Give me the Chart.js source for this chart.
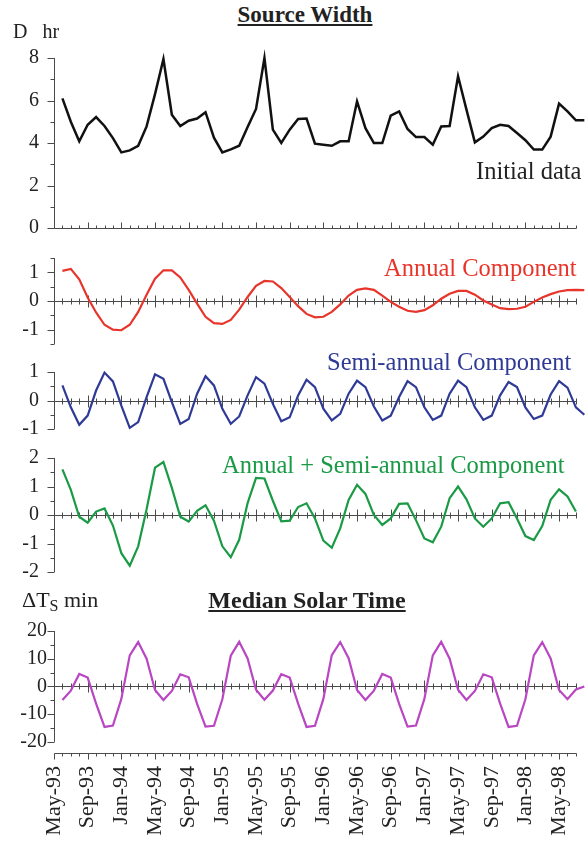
<!DOCTYPE html>
<html>
<head>
<meta charset="utf-8">
<script src="https://cdn.jsdelivr.net/npm/chart.js@4.4.1/dist/chart.umd.min.js"></script>
<style>
  body { margin: 0; background: #fff; }
  #page { position: relative; width: 587px; height: 841px; overflow: hidden;
          font-family: "Liberation Serif", "Times New Roman", serif; color: #222; }
  #page canvas { position: absolute; left: 0; }
  .lbl { position: absolute; white-space: pre; line-height: 1; }
  .head { font-weight: bold; text-decoration: underline; text-underline-offset: 2px; transform: translateX(-50%); }
</style>
</head>
<body>
<div id="page">
  <canvas id="cWidth"></canvas>
  <canvas id="cAnnual"></canvas>
  <canvas id="cSemi"></canvas>
  <canvas id="cSum"></canvas>
  <canvas id="cSolar"></canvas>

  <div class="lbl head" style="left:305px; top:3px; font-size:23px;">Source Width</div>
  <div class="lbl" style="left:13px; top:21px; font-size:20px;">D   hr</div>
  <div class="lbl" style="left:476px; top:159px; font-size:24.5px;">Initial data</div>
  <div class="lbl" style="left:384px; top:256px; font-size:24.5px; color:#e8352b;">Annual Component</div>
  <div class="lbl" style="left:327px; top:350px; font-size:24.5px; color:#2f3a96;">Semi-annual Component</div>
  <div class="lbl" style="left:222px; top:453px; font-size:24.5px; color:#1b9a46;">Annual + Semi-annual Component</div>
  <div class="lbl" style="left:22px; top:589px; font-size:22px;">ΔT<span style="font-size:16px; position:relative; top:4px;">S</span> min</div>
  <div class="lbl head" style="left:307px; top:588px; font-size:24px;">Median Solar Time</div>
</div>
<script>
const SERIF = '"Liberation Serif", "Times New Roman", serif';

// month index 0 = May-93, one tick per month, a label every 4 months
const monthLabels = ['May-93', 'Sep-93', 'Jan-94', 'May-94', 'Sep-94', 'Jan-95', 'May-95', 'Sep-95',
                     'Jan-96', 'May-96', 'Sep-96', 'Jan-97', 'May-97', 'Sep-97', 'Jan-98', 'May-98'];
const firstMonth = 1;     // series start at Jun-93
const lastTickMonth = 62; // Jul-98

// source width, hours
const sourceWidth = [6.1, 5.0, 4.08, 4.86, 5.22, 4.8, 4.23, 3.56, 3.65, 3.87,
                     4.78, 6.3, 7.95, 5.33, 4.8, 5.05, 5.15, 5.45, 4.25, 3.56,
                     3.7, 3.87, 4.75, 5.6, 8.0, 4.63, 4.0, 4.63, 5.13, 5.15,
                     3.97, 3.92, 3.87, 4.08, 4.08, 5.96, 4.7, 4.0, 4.0, 5.29,
                     5.49, 4.66, 4.28, 4.28, 3.92, 4.78, 4.8, 7.14, 5.57, 4.03,
                     4.3, 4.7, 4.86, 4.8, 4.47, 4.13, 3.69, 3.69, 4.3, 5.85,
                     5.49, 5.07, 5.07];

const annual = [1.05, 1.12, 0.76, 0.12, -0.4, -0.83, -1.0, -1.02, -0.83, -0.38,
                0.22, 0.78, 1.07, 1.07, 0.82, 0.39, -0.09, -0.55, -0.77, -0.8,
                -0.66, -0.3, 0.14, 0.53, 0.7, 0.68, 0.45, 0.14, -0.18, -0.45,
                -0.57, -0.55, -0.38, -0.12, 0.19, 0.39, 0.44, 0.39, 0.19, -0.03,
                -0.2, -0.34, -0.38, -0.32, -0.15, 0.08, 0.25, 0.35, 0.35, 0.22,
                0.02, -0.12, -0.25, -0.28, -0.27, -0.2, -0.03, 0.12, 0.24, 0.33,
                0.38, 0.39, 0.38];

const semiAnnual = [0.53, -0.24, -0.85, -0.53, 0.35, 0.98, 0.67, -0.18, -0.96, -0.76,
                    0.12, 0.92, 0.76, -0.06, -0.82, -0.65, 0.24, 0.85, 0.53, -0.29,
                    -0.82, -0.56, 0.18, 0.82, 0.59, -0.12, -0.73, -0.59, 0.18, 0.73,
                    0.47, -0.29, -0.7, -0.47, 0.24, 0.7, 0.47, -0.21, -0.7, -0.53,
                    0.12, 0.68, 0.47, -0.24, -0.68, -0.53, 0.24, 0.7, 0.47, -0.24,
                    -0.68, -0.53, 0.18, 0.65, 0.47, -0.24, -0.65, -0.53, 0.21, 0.68,
                    0.45, -0.24, -0.5];

const combined = [1.6, 0.88, -0.06, -0.27, 0.12, 0.23, -0.37, -1.34, -1.78, -1.1,
                  0.2, 1.66, 1.86, 0.95, -0.06, -0.23, 0.15, 0.34, -0.2, -1.1,
                  -1.48, -0.87, 0.42, 1.3, 1.28, 0.5, -0.22, -0.2, 0.28, 0.41,
                  -0.12, -0.9, -1.15, -0.47, 0.53, 1.06, 0.74, 0.0, -0.35, -0.12,
                  0.39, 0.41, -0.18, -0.82, -0.96, -0.41, 0.59, 1.0, 0.55, -0.12,
                  -0.41, -0.12, 0.41, 0.45, -0.12, -0.74, -0.88, -0.39, 0.53, 0.9,
                  0.65, 0.12];

// median solar time offset, minutes
const solarTime = [-4.9, -1.5, 4.5, 3.2, -6.2, -14.6, -14.1, -4.5, 11.2, 16.0, 10.0, -1.3,
                   -4.9, -1.6, 4.4, 3.3, -6.3, -14.5, -14.2, -4.6, 11.1, 16.1, 10.1, -1.2,
                   -4.8, -1.5, 4.4, 3.2, -6.2, -14.6, -14.2, -4.5, 11.3, 16.0, 10.2, -1.3,
                   -4.9, -1.5, 4.5, 3.2, -6.3, -14.5, -14.1, -4.5, 11.2, 16.1, 10.0, -1.2,
                   -4.9, -1.6, 4.4, 3.3, -6.2, -14.6, -14.2, -4.6, 11.2, 16.0, 10.1, -1.3,
                   -4.6, -1.1, 0.0];

const PAD = 20;        // room above/below each plot for the tick labels
const X_LABEL_H = 88;  // height of the rotated month labels
const AXIS = '#4a4a4a';

// axis lines and tick marks: a y axis with long/short ticks and
// one or more month axes with ticks pointing up, down or across
const panelAxes = {
  id: 'panelAxes',
  beforeDatasetsDraw(chart, args, o) {
    const { ctx, scales: { x, y } } = chart;
    const ax = Math.round(x.getPixelForValue(0)) + 0.5;
    ctx.save();
    ctx.strokeStyle = AXIS;
    ctx.lineWidth = 1;
    ctx.beginPath();
    ctx.moveTo(ax, y.getPixelForValue(o.yFrom));
    ctx.lineTo(ax, y.getPixelForValue(o.yTo));
    for (const v of o.major) {
      const py = Math.round(y.getPixelForValue(v)) + 0.5;
      ctx.moveTo(ax - 7, py); ctx.lineTo(ax, py);
    }
    for (const v of o.minor) {
      const py = Math.round(y.getPixelForValue(v)) + 0.5;
      ctx.moveTo(ax - 4, py); ctx.lineTo(ax, py);
    }
    for (const m of o.monthAxes) {
      const py = Math.round(y.getPixelForValue(m.at)) + 0.5;
      ctx.moveTo(ax, py);
      ctx.lineTo(Math.round(x.getPixelForValue(lastTickMonth)) + 0.5, py);
      for (let k = 0; k <= lastTickMonth; k++) {
        const px = Math.round(x.getPixelForValue(k)) + 0.5;
        const len = k % 4 === 0 ? 6 : 3;
        ctx.moveTo(px, py - (m.dir === 'down' ? 0 : len));
        ctx.lineTo(px, py + (m.dir === 'up' ? 0 : len));
      }
    }
    ctx.stroke();
    ctx.restore();
  }
};

function makePanel(id, geo, series, color, lineWidth, axes) {
  const canvas = document.getElementById(id);
  const top = geo.top - PAD;
  canvas.width = 587;
  canvas.height = geo.bottom - top + (geo.xLabels ? X_LABEL_H : PAD);
  canvas.style.top = top + 'px';

  return new Chart(canvas, {
    type: 'line',
    data: {
      datasets: [{
        data: series.map((v, i) => ({ x: firstMonth + i, y: v })),
        borderColor: color,
        borderWidth: lineWidth,
        pointRadius: 0,
        tension: 0,
        clip: false
      }]
    },
    options: {
      responsive: false,
      animation: false,
      events: [],
      layout: { padding: { top: PAD, bottom: geo.xLabels ? 0 : PAD, left: 0, right: 1 } },
      plugins: {
        legend: { display: false },
        tooltip: { enabled: false },
        panelAxes: axes
      },
      scales: {
        x: {
          type: 'linear',
          min: 0,
          max: 63.2,
          display: !!geo.xLabels,
          grid: { display: false, drawTicks: false },
          border: { display: false },
          afterBuildTicks: s => { s.ticks = monthLabels.map((_, i) => ({ value: i * 4 })); },
          afterFit: s => {
            if (!geo.xLabels) return;
            s.height = X_LABEL_H;
            s.paddingLeft = 0;
            s.paddingRight = 0;
          },
          ticks: {
            autoSkip: false,
            minRotation: 90,
            maxRotation: 90,
            padding: 13,
            color: '#222',
            font: { family: SERIF, size: 22 },
            callback: (v, i) => monthLabels[i]
          }
        },
        y: {
          min: geo.min,
          max: geo.max,
          grid: { display: false, drawTicks: false },
          border: { display: false },
          afterBuildTicks: s => { s.ticks = axes.major.map(v => ({ value: v })); },
          afterFit: s => { s.width = 54; s.paddingTop = 0; s.paddingBottom = 0; },
          ticks: {
            padding: geo.labelGap || 15,
            color: '#222',
            font: { family: SERIF, size: 20 },
            callback: v => String(v)
          }
        }
      }
    },
    plugins: [panelAxes]
  });
}

makePanel('cWidth', { top: 58, bottom: 228, min: 0, max: 8 }, sourceWidth, '#111', 2.5, {
  yFrom: 0, yTo: 8, major: [0, 2, 4, 6, 8], minor: [1, 3, 5, 7],
  monthAxes: [{ at: 0, dir: 'up' }]
});

makePanel('cAnnual', { top: 258, bottom: 344, min: -1.5, max: 1.5 }, annual, '#e8352b', 2.2, {
  yFrom: -1.5, yTo: 1.5, major: [-1, 0, 1], minor: [-1.5, -0.5, 0.5, 1.5],
  monthAxes: [{ at: 0, dir: 'cross' }]
});

makePanel('cSemi', { top: 372, bottom: 429, min: -1, max: 1 }, semiAnnual, '#2f3a96', 2.2, {
  yFrom: -1, yTo: 1, major: [-1, 0, 1], minor: [-0.5, 0.5],
  monthAxes: [{ at: 0, dir: 'cross' }]
});

makePanel('cSum', { top: 458, bottom: 572, min: -2, max: 2 }, combined, '#1b9a46', 2.2, {
  yFrom: -2, yTo: 2, major: [-2, -1, 0, 1, 2], minor: [-1.5, -0.5, 0.5, 1.5],
  monthAxes: [{ at: 0, dir: 'cross' }]
});

makePanel('cSolar', { top: 631, bottom: 753, min: -24, max: 20, xLabels: true, labelGap: 7 }, solarTime, '#b946c2', 2.2, {
  yFrom: -20, yTo: 20, major: [-20, -10, 0, 10, 20], minor: [-15, -5, 5, 15],
  monthAxes: [{ at: 0, dir: 'cross' }, { at: -24, dir: 'down' }]
});
</script>
</body>
</html>
